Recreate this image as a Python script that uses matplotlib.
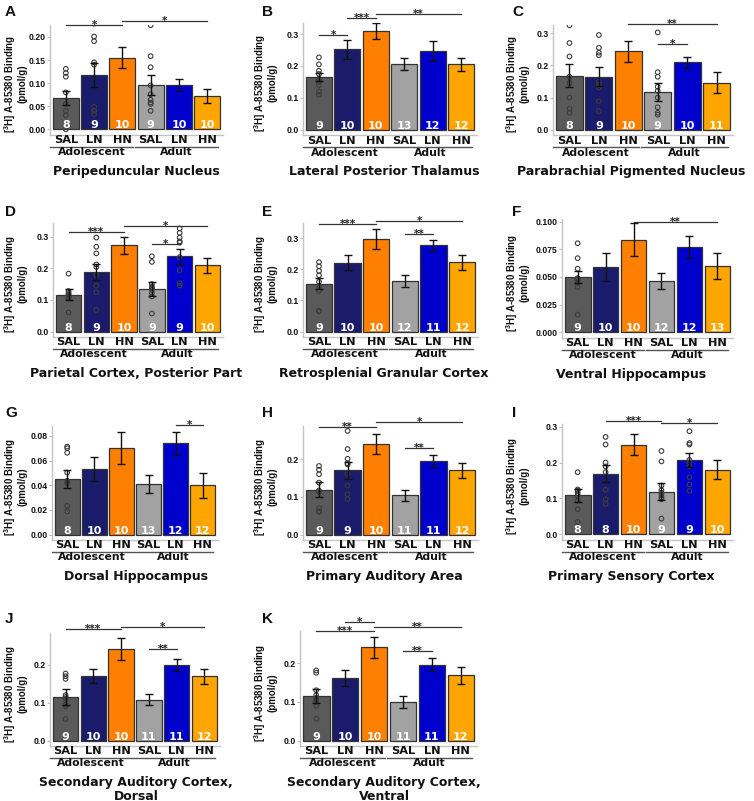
import matplotlib
matplotlib.use('Agg')
import matplotlib.pyplot as plt
import matplotlib.transforms as mtrans
import numpy as np

W, H, DPI = 754, 801, 100
plt.rcParams['mathtext.fontset'] = 'custom'
plt.rcParams['mathtext.rm'] = 'Liberation Sans'
plt.rcParams['mathtext.bf'] = 'Liberation Sans:bold'

# ---------------- data ----------------
treatments = ['SAL', 'LN', 'HN', 'SAL', 'LN', 'HN']
ages = ['Adolescent', 'Adult']
bar_colors = ['#5a5a5a', '#1b1b6c', '#ff7f00', '#a2a2a2', '#0000cd', '#ffa500']
ylabel = '[$^{\\mathbf{3}}$H] A-85380 Binding\n(pmol/g)'

A_title = 'Peripeduncular Nucleus'
A_mean = [0.067, 0.118, 0.155, 0.096, 0.096, 0.073]
A_sem = [0.015, 0.026, 0.023, 0.022, 0.013, 0.015]
A_n = [8, 9, 10, 9, 10, 10]
A_pts = {0: [0.131, 0.122, 0.114, 0.080, 0.055, 0.040, 0.030, 0.000],
         1: [0.229, 0.201, 0.191, 0.145, 0.140, 0.049, 0.040, 0.033, 0.040],
         3: [0.2255, 0.1585, 0.1345, 0.095, 0.076, 0.064, 0.058, 0.055, 0.040]}
A_sig = [(0, 2, 0.2255, '*'), (2, 5, 0.234, '*')]
A_ticks = [0, 0.05, 0.10, 0.15, 0.20]
A_top = 0.226

B_title = 'Lateral Posterior Thalamus'
B_mean = [0.166, 0.253, 0.309, 0.207, 0.248, 0.205]
B_sem = [0.013, 0.030, 0.025, 0.019, 0.031, 0.021]
B_n = [9, 10, 10, 13, 12, 12]
B_pts = {0: [0.227, 0.205, 0.185, 0.175, 0.160, 0.150, 0.140, 0.120, 0.110]}
B_sig = [(0, 1, 0.298, '*'), (1, 2, 0.351, '***'), (2, 5, 0.362, '**')]
B_ticks = [0, 0.1, 0.2, 0.3]
B_top = 0.335

C_title = 'Parabrachial Pigmented Nucleus'
C_mean = [0.168, 0.165, 0.244, 0.119, 0.210, 0.147]
C_sem = [0.036, 0.030, 0.033, 0.028, 0.017, 0.033]
C_n = [8, 9, 10, 9, 10, 11]
C_pts = {0: [0.325, 0.270, 0.228, 0.165, 0.145, 0.100, 0.066, 0.053],
         1: [0.295, 0.255, 0.240, 0.232, 0.150, 0.140, 0.132, 0.089, 0.058],
         3: [0.303, 0.179, 0.165, 0.134, 0.121, 0.100, 0.070, 0.053, 0.047]}
C_sig = [(2, 5, 0.329, '**'), (3, 4, 0.268, '*')]
C_ticks = [0, 0.1, 0.2, 0.3]
C_top = 0.326

D_title = 'Parietal Cortex, Posterior Part'
D_mean = [0.1165, 0.189, 0.273, 0.135, 0.238, 0.209]
D_sem = [0.017, 0.025, 0.027, 0.023, 0.023, 0.025]
D_n = [8, 9, 10, 9, 9, 10]
D_pts = {0: [0.183, 0.128, 0.122, 0.118, 0.115, 0.110, 0.105, 0.060],
         1: [0.297, 0.268, 0.247, 0.212, 0.204, 0.178, 0.145, 0.124, 0.068],
         3: [0.238, 0.220, 0.150, 0.142, 0.138, 0.132, 0.122, 0.111, 0.057],
         4: [0.326, 0.312, 0.297, 0.285, 0.281, 0.235, 0.194, 0.153, 0.145]}
D_sig = [(0, 2, 0.314, '***'), (2, 5, 0.333, '*'), (3, 4, 0.276, '*')]
D_ticks = [0, 0.1, 0.2, 0.3]
D_top = 0.343

E_title = 'Retrosplenial Granular Cortex'
E_mean = [0.154, 0.221, 0.299, 0.163, 0.277, 0.223]
E_sem = [0.017, 0.024, 0.032, 0.020, 0.018, 0.024]
E_n = [9, 10, 10, 12, 11, 12]
E_pts = {0: [0.223, 0.210, 0.195, 0.181, 0.160, 0.147, 0.131, 0.067, 0.065]}
E_sig = [(0, 2, 0.347, '***'), (2, 5, 0.357, '*'), (3, 4, 0.315, '**')]
E_ticks = [0, 0.1, 0.2, 0.3]
E_top = 0.349

F_title = 'Ventral Hippocampus'
F_mean = [0.050, 0.059, 0.0838, 0.0464, 0.0769, 0.0599]
F_sem = [0.005, 0.0127, 0.0147, 0.0068, 0.0097, 0.012]
F_n = [9, 10, 10, 12, 12, 13]
F_pts = {0: [0.0805, 0.067, 0.0575, 0.049, 0.048, 0.0476, 0.0446, 0.041, 0.016]}
F_sig = [(2, 5, 0.0994, '**')]
F_ticks = [0, 0.025, 0.050, 0.075, 0.100]
F_top = 0.1024

G_title = 'Dorsal Hippocampus'
G_mean = [0.0449, 0.0528, 0.070, 0.0409, 0.0739, 0.0399]
G_sem = [0.0074, 0.0097, 0.013, 0.007, 0.0096, 0.0103]
G_n = [8, 10, 10, 13, 12, 12]
G_pts = {0: [0.0713, 0.070, 0.0663, 0.0502, 0.0436, 0.0417, 0.0232, 0.0187]}
G_sig = [(4, 5, 0.0887, '*')]
G_ticks = [0, 0.02, 0.04, 0.06, 0.08]
G_top = 0.088

H_title = 'Primary Auditory Area'
H_mean = [0.1195, 0.170, 0.241, 0.104, 0.195, 0.170]
H_sem = [0.019, 0.022, 0.027, 0.015, 0.015, 0.019]
H_n = [9, 9, 10, 11, 11, 12]
H_pts = {0: [0.182, 0.172, 0.160, 0.138, 0.117, 0.113, 0.070, 0.062, 0.060],
         1: [0.275, 0.227, 0.201, 0.189, 0.186, 0.161, 0.130, 0.107, 0.094]}
H_sig = [(0, 2, 0.2866, '**'), (2, 5, 0.2996, '*'), (3, 4, 0.230, '**')]
H_ticks = [0, 0.1, 0.2]
H_top = 0.288

I_title = 'Primary Sensory Cortex'
I_mean = [0.109, 0.169, 0.250, 0.119, 0.207, 0.180]
I_sem = [0.018, 0.024, 0.030, 0.023, 0.019, 0.026]
I_n = [8, 8, 10, 9, 9, 10]
I_pts = {0: [0.173, 0.125, 0.122, 0.115, 0.108, 0.094, 0.070, 0.035],
         1: [0.271, 0.250, 0.200, 0.189, 0.173, 0.124, 0.098, 0.085],
         3: [0.232, 0.203, 0.136, 0.123, 0.116, 0.110, 0.103, 0.098, 0.044],
         4: [0.287, 0.254, 0.250, 0.207, 0.200, 0.189, 0.159, 0.139, 0.121]}
I_sig = [(1, 3, 0.3145, '***'), (3, 5, 0.310, '*')]
I_ticks = [0, 0.1, 0.2, 0.3]
I_top = 0.307

J_title = 'Secondary Auditory Cortex,\nDorsal'
J_mean = [0.115, 0.171, 0.242, 0.108, 0.199, 0.170]
J_sem = [0.020, 0.019, 0.028, 0.015, 0.016, 0.020]
J_n = [9, 10, 10, 11, 11, 12]
J_pts = {0: [0.177, 0.170, 0.163, 0.120, 0.115, 0.110, 0.095, 0.090, 0.057]}
J_sig = [(0, 2, 0.294, '***'), (2, 5, 0.301, '*'), (3, 4, 0.242, '**')]
J_ticks = [0, 0.1, 0.2]
J_top = 0.284

K_title = 'Secondary Auditory Cortex,\nVentral'
K_mean = [0.115, 0.162, 0.241, 0.100, 0.196, 0.169]
K_sem = [0.018, 0.021, 0.027, 0.015, 0.017, 0.022]
K_n = [9, 10, 10, 11, 11, 12]
K_pts = {0: [0.181, 0.175, 0.130, 0.117, 0.110, 0.105, 0.100, 0.090, 0.056]}
K_sig = [(1, 2, 0.305, '*'), (0, 2, 0.282, '***'), (2, 5, 0.294, '**'), (3, 4, 0.231, '**')]
K_ticks = [0, 0.1, 0.2]
K_top = 0.283

# ---------------- layout (pixels: left, right, top, bottom) ----------------
boxes = {
    'A': (50, 223, 25, 134.5), 'B': (303, 477, 23, 135), 'C': (553, 733, 25, 135),
    'D': (53, 223, 223, 337), 'E': (303, 478, 223, 337), 'F': (562, 733, 219, 338),
    'G': (52, 218, 426, 540), 'H': (303, 478, 426, 540), 'I': (562, 733, 424, 540),
    'J': (50, 220, 633, 746), 'K': (300, 477, 631, 746),
}
ylab_x = {0: 15, 1: 265, 2: 517}
title_x = {0: 136, 1: 384, 2: 631}
letter_x = {0: 5, 1: 262, 2: 512}
letter_base = {0: 16, 1: 216, 2: 417, 3: 623}
tick_fmt = {'A': '%.2f', 'B': '%.1f', 'C': '%.1f', 'D': '%.1f', 'E': '%.1f', 'F': '%.3f',
            'G': '%.2f', 'H': '%.1f', 'I': '%.1f', 'J': '%.1f', 'K': '%.1f'}

panels = [
    ('A', A_title, A_mean, A_sem, A_n, A_pts, A_sig, A_ticks, A_top),
    ('B', B_title, B_mean, B_sem, B_n, B_pts, B_sig, B_ticks, B_top),
    ('C', C_title, C_mean, C_sem, C_n, C_pts, C_sig, C_ticks, C_top),
    ('D', D_title, D_mean, D_sem, D_n, D_pts, D_sig, D_ticks, D_top),
    ('E', E_title, E_mean, E_sem, E_n, E_pts, E_sig, E_ticks, E_top),
    ('F', F_title, F_mean, F_sem, F_n, F_pts, F_sig, F_ticks, F_top),
    ('G', G_title, G_mean, G_sem, G_n, G_pts, G_sig, G_ticks, G_top),
    ('H', H_title, H_mean, H_sem, H_n, H_pts, H_sig, H_ticks, H_top),
    ('I', I_title, I_mean, I_sem, I_n, I_pts, I_sig, I_ticks, I_top),
    ('J', J_title, J_mean, J_sem, J_n, J_pts, J_sig, J_ticks, J_top),
    ('K', K_title, K_mean, K_sem, K_n, K_pts, K_sig, K_ticks, K_top),
]

fig = plt.figure(figsize=(W / DPI, H / DPI), dpi=DPI)
fig.patch.set_facecolor('white')

VERD = 'DejaVu Sans'
ARIAL = 'Liberation Sans'


def below(ax, dy_px):
    base = mtrans.blended_transform_factory(ax.transData, ax.transAxes)
    return base + mtrans.ScaledTranslation(0, -dy_px / DPI, fig.dpi_scale_trans)


def data_up(ax, dy_px):
    return ax.transData + mtrans.ScaledTranslation(0, dy_px / DPI, fig.dpi_scale_trans)


for idx, (letter, title, mean, sem, ns, pts, sig, ticks, top) in enumerate(panels):
    L, R, T, B = boxes[letter]
    col = idx % 3
    row = idx // 3
    ax = fig.add_axes([L / W, 1 - B / H, (R - L) / W, (B - T) / H])
    x = np.arange(len(mean))
    ax.bar(x, mean, width=0.92, color=bar_colors, edgecolor='#333333', linewidth=0.9, zorder=2)
    for i, vals in pts.items():
        ax.scatter(np.full(len(vals), i), vals, s=11, facecolors='none',
                   edgecolors='#3c3c3c', linewidths=0.8, zorder=3)
    ax.errorbar(x, mean, yerr=sem, fmt='none', ecolor='#111111', elinewidth=1.0,
                capsize=2.6, capthick=1.0, zorder=4)
    for i, n in enumerate(ns):
        ax.text(i, 0, str(n), transform=data_up(ax, 1), ha='center', va='baseline',
                color='white', fontsize=8, fontweight='bold', family=VERD, zorder=5)
    ax.set_xlim(-0.56, 5.56)
    ax.set_ylim(-0.05 * top, top)
    ax.set_xticks([])
    ax.set_yticks(ticks)
    ax.set_yticklabels([tick_fmt[letter] % t for t in ticks])
    for lbl in ax.get_yticklabels():
        lbl.set_family(ARIAL)
        lbl.set_fontweight('bold')
        lbl.set_fontsize(6.2)
        lbl.set_color('#111111')
    ax.tick_params(axis='y', length=2, width=0.8, color='#bdbdbd', pad=1)
    for s in ['top', 'right']:
        ax.spines[s].set_visible(False)
    for s in ['left', 'bottom']:
        ax.spines[s].set_color('#c4c4c4')
        ax.spines[s].set_linewidth(1.0)
    ax.set_facecolor('white')
    # significance bars
    for (a, b, y, stars) in sig:
        ax.plot([a, b], [y, y], color='#333333', lw=0.9, clip_on=False, zorder=6)
        ax.text((a + b) / 2, y, stars, ha='center', va='center', fontsize=7.5,
                fontweight='bold', family=VERD, color='#222222', clip_on=False)
    # x labels
    for i, t in enumerate(treatments):
        ax.text(i, 0, t, transform=below(ax, 0.5), ha='center', va='top',
                fontsize=8.2, fontweight='bold', family=VERD, color='#111111')
    for (x0, x1), age in zip([(-0.57, 2.38), (2.44, 5.38)], ages):
        ax.plot([x0, x1], [0, 0], transform=below(ax, 12), color='#555555', lw=1.0, clip_on=False)
        ax.text((x0 + x1) / 2, 0, age, transform=below(ax, 12.5), ha='center', va='top',
                fontsize=7.8, fontweight='bold', family=VERD, color='#111111')
    ytitle = B + 30
    fig.text(title_x[col] / W, 1 - ytitle / H, title, ha='center', va='top',
             fontsize=9, fontweight='bold', family=VERD, color='#111111', linespacing=1.05)
    # y label
    fig.text(ylab_x[col] / W, 1 - ((T + B) / 2 + 4) / H, ylabel, rotation=90,
             ha='center', va='center', fontsize=7.0, fontweight='bold', family=ARIAL,
             linespacing=1.0, color='#111111')
    # panel letter
    fig.text(letter_x[col] / W, 1 - letter_base[row] / H, letter, ha='left', va='baseline',
             fontsize=11, fontweight='bold', family=ARIAL, color='#111111')

fig.savefig('out.png', dpi=DPI, facecolor='white')
